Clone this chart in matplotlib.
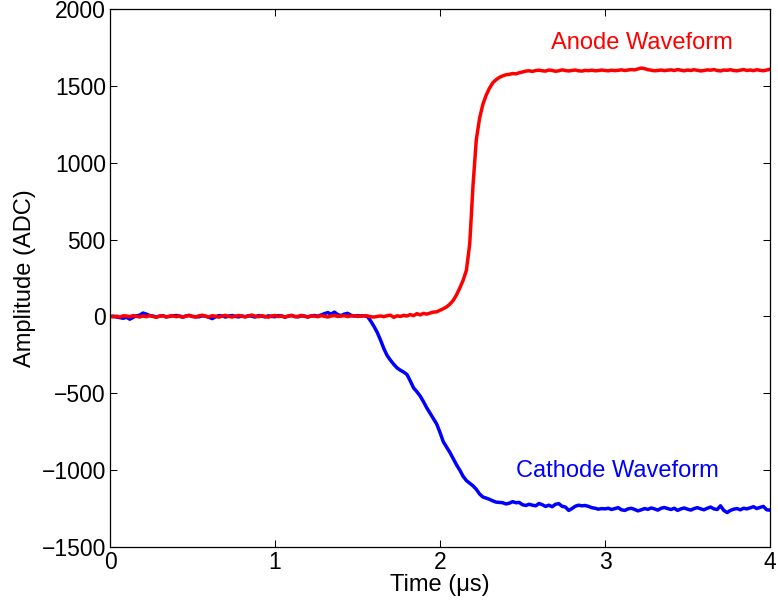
import matplotlib
matplotlib.use("Agg")
import matplotlib.pyplot as plt
import numpy as np

plt.rcParams['font.family'] = ['Liberation Sans', 'DejaVu Sans']

# sample times, 20 ns steps
time_us = np.round(np.arange(201) * 0.02, 2)

anode = [
    0, -3, 2, -5, 4, 3, -2, 6, 1, -4,
    3, -2, 5, 0, -6, 2, 4, -3, 1, 5,
    -2, 3, -4, 2, 6, 0, -3, 4, 8, 2,
    -3, 5, 1, -5, 3, 7, 0, -4, 2, 6,
    1, -3, 4, 9, 2, -2, 5, 0, -5, 3,
    6, -1, 3, -4, 2, 5, -2, 1, 7, 0,
    -3, 4, 2, -2, 5, 1, -4, 3, 6, 0,
    2, 5, -1, 3, 4, 0, 2, 5, 3, -2,
    -4, 0, 3, -2, 5, 8, -6, 4, 0, 7,
    3, 12, 5, 18, 10, 20, 15, 22, 28, 30,
    40, 50, 62, 80, 104, 140, 185, 235, 300, 470,
    850, 1150, 1290, 1380, 1440, 1485, 1520, 1540, 1555, 1565,
    1572, 1575, 1580, 1578, 1585, 1590, 1596, 1598, 1594, 1600,
    1602, 1598, 1596, 1603, 1600, 1595, 1598, 1604, 1600, 1597,
    1600, 1603, 1598, 1596, 1601, 1599, 1602, 1598, 1600, 1603,
    1600, 1598, 1602, 1599, 1601, 1604, 1600, 1603, 1606, 1604,
    1610, 1616, 1612, 1605, 1602, 1598, 1600, 1603, 1599, 1602,
    1604, 1600, 1606, 1602, 1598, 1603, 1600, 1605, 1601, 1597,
    1600, 1604, 1602, 1606, 1600, 1597, 1603, 1601, 1605, 1600,
    1598, 1602, 1606, 1600, 1603, 1599, 1605, 1601, 1598, 1603, 1608,
]

cathode = [
    0, 2, -4, -8, -12, -5, -18, -6, 4, 8,
    22, 15, 6, 3, -4, 2, 5, -3, 0, 4,
    6, 2, -5, 3, 7, 0, -3, -2, 4, 1,
    -6, -14, -2, 5, 3, -4, 2, 6, 0, -3,
    3, -2, 5, 1, -4, 6, 2, -3, 4, 0,
    -2, 5, 3, -5, 2, 7, 0, -3, 4, 2,
    -4, 3, 6, 1, 10, 18, 25, 15, 28, 12,
    5, 15, 20, 8, 2, 5, 3, 4, 0, -30,
    -65, -105, -155, -210, -255, -285, -312, -335, -350, -362,
    -378, -420, -465, -490, -518, -555, -595, -630, -665, -700,
    -755, -815, -850, -885, -925, -965, -1000, -1040, -1068, -1085,
    -1102, -1125, -1155, -1175, -1182, -1190, -1200, -1208, -1210, -1212,
    -1220, -1215, -1205, -1212, -1210, -1225, -1230, -1222, -1228, -1232,
    -1217, -1225, -1236, -1228, -1238, -1222, -1218, -1235, -1240, -1262,
    -1250, -1235, -1228, -1232, -1230, -1236, -1244, -1248, -1254, -1250,
    -1252, -1248, -1256, -1250, -1244, -1258, -1262, -1252, -1248, -1256,
    -1265, -1258, -1250, -1255, -1246, -1252, -1260, -1248, -1243, -1250,
    -1256, -1248, -1262, -1252, -1246, -1254, -1260, -1250, -1244, -1252,
    -1258, -1248, -1240, -1252, -1256, -1232, -1262, -1276, -1262, -1254,
    -1250, -1258, -1248, -1252, -1245, -1238, -1250, -1242, -1236, -1258, -1260,
]

x_ticks = [0, 1, 2, 3, 4]
y_ticks = [-1500, -1000, -500, 0, 500, 1000, 1500, 2000]

fig = plt.figure(figsize=(7.78, 6.09), dpi=100)
ax = fig.add_axes([110/778, 1 - 547/609, 660/778, 538/609])

ax.plot(time_us, cathode, color='#0000ff', lw=2.5)
ax.plot(time_us, anode, color='#ff0000', lw=2.5)

ax.text(2.673, 1740, "Anode Waveform", color='#ff0000', fontsize=17, va='baseline', ha='left')
ax.text(2.46, -1043, "Cathode Waveform", color='#0000ff', fontsize=17, va='baseline', ha='left')

ax.set_xlim(0, 4)
ax.set_ylim(-1500, 2000)
ax.set_xticks(x_ticks)
ax.set_yticks(y_ticks)
ax.tick_params(direction='in', length=4.8, width=0.75, labelsize=16.5,
               top=True, right=True, pad=3)
for s in ax.spines.values():
    s.set_linewidth(0.9)

ax.set_xlabel("Time (μs)", fontsize=17, labelpad=0)
ax.set_ylabel("Amplitude (ADC)", fontsize=17, labelpad=4)

fig.savefig("out.png", dpi=100)
